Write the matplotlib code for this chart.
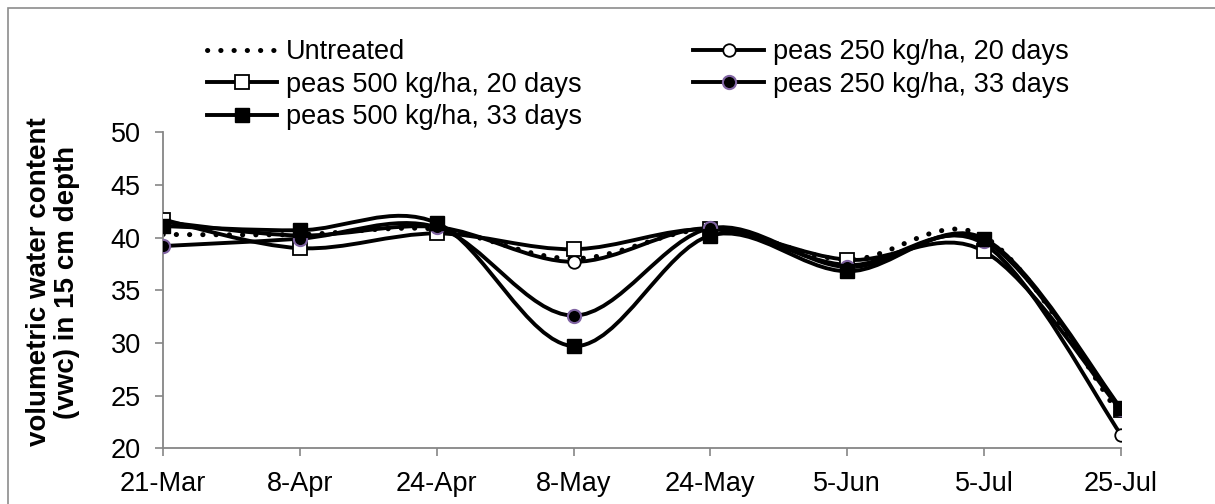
import matplotlib
matplotlib.use("Agg")
import matplotlib.pyplot as plt
import numpy as np
from matplotlib.lines import Line2D
from matplotlib.path import Path
from matplotlib.patches import PathPatch, Rectangle

plt.rcParams["font.family"] = ["Liberation Sans", "DejaVu Sans"]

dates = ["21-Mar", "8-Apr", "24-Apr", "8-May", "24-May", "5-Jun", "5-Jul", "25-Jul"]
untreated = [40.3, 40.3, 40.8, 38.0, 40.8, 37.9, 40.1, 23.0]
peas250_20 = [41.5, 40.2, 41.0, 37.7, 40.9, 37.4, 39.4, 21.3]
peas500_20 = [41.7, 39.0, 40.4, 38.9, 40.8, 37.9, 38.7, 23.6]
peas250_33 = [39.2, 39.9, 41.0, 32.6, 40.9, 37.2, 39.7, 23.7]
peas500_33 = [41.1, 40.7, 41.4, 29.7, 40.2, 36.8, 39.9, 23.8]

GRAY = "#868686"
PURPLE = "#8064a2"


def smooth_path(xs, ys):
    # Excel-style smoothed line: cubic Bezier segments, Catmull-Rom control points
    pts = np.column_stack([xs, ys]).astype(float)
    n = len(pts)
    verts = [pts[0]]
    codes = [Path.MOVETO]
    for i in range(n - 1):
        p0 = pts[i - 1] if i > 0 else pts[i]
        p1 = pts[i]
        p2 = pts[i + 1]
        p3 = pts[i + 2] if i + 2 < n else pts[i + 1]
        verts += [p1 + (p2 - p0) / 6.0, p2 - (p3 - p1) / 6.0, p2]
        codes += [Path.CURVE4] * 3
    return Path(verts, codes)


fig = plt.figure(figsize=(12.15, 5.04), dpi=100)
ax = fig.add_axes([163 / 1215, 1 - 448.3 / 504, (1121 - 163) / 1215, (448.3 - 132.3) / 504])

x = np.arange(len(dates))

series = [
    ("Untreated", untreated, dict(ls=(0, (0.05, 2.6)), lw=3.6, cap="round"), None),
    ("peas 250 kg/ha, 20 days", peas250_20, dict(ls="-", lw=2.8, cap="butt"),
     dict(marker="o", ms=9, mfc="white", mec="black", mew=1.3)),
    ("peas 500 kg/ha, 20 days", peas500_20, dict(ls="-", lw=2.8, cap="butt"),
     dict(marker="s", ms=9.5, mfc="white", mec="black", mew=1.3)),
    ("peas 250 kg/ha, 33 days", peas250_33, dict(ls="-", lw=2.8, cap="butt"),
     dict(marker="o", ms=9.5, mfc="black", mec=PURPLE, mew=1.5)),
    ("peas 500 kg/ha, 33 days", peas500_33, dict(ls="-", lw=2.8, cap="butt"),
     dict(marker="s", ms=10, mfc="black", mec="black", mew=1.0)),
]

handles = {}
for z, (name, vals, line, mk) in enumerate(series):
    patch = PathPatch(smooth_path(x, vals), fill=False, edgecolor="black",
                      linewidth=line["lw"], linestyle=line["ls"],
                      capstyle=line["cap"], transform=ax.transData, zorder=2 + z)
    ax.add_patch(patch)
    if mk is not None:
        ax.plot(x, vals, linestyle="none", zorder=2.5 + z, **mk)
        h = Line2D([], [], color="black", lw=line["lw"], **mk)
    else:
        h = Line2D([], [], color="black", lw=line["lw"], ls=line["ls"],
                   dash_capstyle="round")
    handles[name] = h

ax.set_xlim(0, len(dates) - 1)
ax.set_ylim(20, 50)
ax.set_xticks(x)
ax.set_xticklabels(dates)
ax.set_yticks(np.arange(20, 51, 5))

for side in ["top", "right"]:
    ax.spines[side].set_visible(False)
for side in ["left", "bottom"]:
    ax.spines[side].set_color(GRAY)
    ax.spines[side].set_linewidth(1.3)
ax.spines["bottom"].set_zorder(1)
ax.tick_params(axis="both", direction="out", length=6, width=1.2, color=GRAY,
               labelsize=19.5, labelcolor="black")
ax.tick_params(axis="y", pad=10)
ax.tick_params(axis="x", pad=10)

fig.text(53.5 / 1215, 1 - 282 / 504,
         "volumetric water content\n(vwc) in 15 cm depth",
         rotation=90, ha="center", va="center", multialignment="center",
         fontsize=20, fontweight="bold", linespacing=1.1)

order = ["Untreated", "peas 500 kg/ha, 20 days", "peas 500 kg/ha, 33 days",
         "peas 250 kg/ha, 20 days", "peas 250 kg/ha, 33 days"]
fig.legend([handles[k] for k in order], order, loc="upper left",
           bbox_to_anchor=(207 / 1215, 1 - 39 / 504), ncol=2, frameon=False,
           fontsize=19.5, borderpad=0, borderaxespad=0, handlelength=2.6,
           handletextpad=0.33, labelspacing=0.24, columnspacing=4.1)

fig.patches.append(Rectangle((8 / 1215, -0.05), 1.2, 1 - 8 / 504 + 0.05,
                             transform=fig.transFigure, fill=False,
                             edgecolor="#8c8c8c", linewidth=1.2))

fig.savefig("out.png", dpi=100)
